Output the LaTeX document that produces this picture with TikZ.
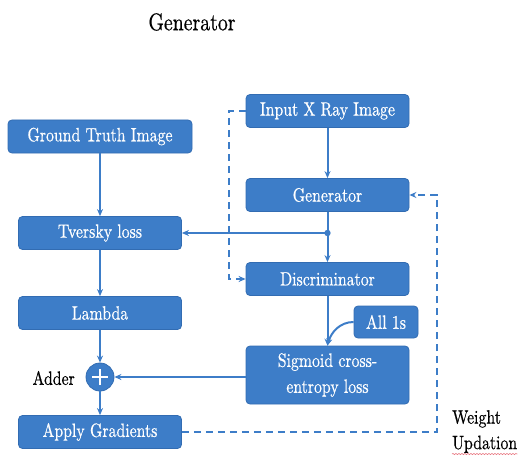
\documentclass[tikz,border=0pt]{standalone}
\usepackage{graphicx}
\usepackage{fontspec}
\setmainfont{lmroman10-regular.otf}[FakeBold=0.6]
\usetikzlibrary{arrows.meta,decorations.pathmorphing}
\definecolor{boxblue}{RGB}{61,125,200}
\definecolor{boxedge}{RGB}{50,108,178}
\definecolor{spellred}{RGB}{232,120,130}
% slightly tall lettering
\newcommand{\vst}[1]{\scalebox{1}[1.22]{#1}}
\begin{document}
\begin{tikzpicture}[x=1pt,y=1pt,
  lbl/.style={font=\fontsize{15.8}{20}\selectfont},
  blk/.style={draw=boxedge, line width=0.8pt, fill=boxblue, rounded corners=4pt,
    text=white, lbl, inner sep=0pt, minimum height=33pt, minimum width=163pt},
  flow/.style={draw=boxblue, line width=2pt, -{Stealth[length=7pt,width=6pt]}},
  loopline/.style={flow, dash pattern=on 7pt off 5pt}]
\useasboundingbox (0,0) rectangle (519,456);

% title
\node[font=\fontsize{19.8}{24}\selectfont] (title) at (192,434) {\vst{Generator}};

% left column
\node[blk, minimum width=184pt] (gt) at (100,319.5) {\vst{Ground Truth Image}};
\node[blk] (tv) at (100,223) {\vst{Tversky loss}};
\node[blk] (lam) at (100,143) {\vst{Lambda}};
\node[circle, fill=boxblue, draw=boxedge, line width=0.8pt, minimum size=28pt, inner sep=0pt] (add) at (100,79) {};
\draw[white, line width=1.2pt] ([xshift=-8pt]add.center) -- ([xshift=8pt]add.center)
  ([yshift=-8pt]add.center) -- ([yshift=8pt]add.center);
\node[blk] (ag) at (100,24) {\vst{Apply Gradients}};
\node[lbl, anchor=east, inner sep=0pt] (addlbl) at (75,78) {\vst{Adder}};

% right column
\node[blk] (xr) at (327.5,345) {\vst{Input X Ray Image}};
\node[blk] (gen) at (327.5,261) {\vst{Generator}};
\coordinate (jn) at (327.5,223);
\node[blk] (dis) at (327.5,177) {\vst{Discriminator}};
\node[blk, minimum width=64pt, minimum height=32pt] (ones) at (386,134) {\vst{All 1s}};
\node[blk, minimum height=58pt, align=center, font=\fontsize{15.8}{26}\selectfont] (sig) at (327.5,81) {\vst{Sigmoid cross-}\\\vst{entropy loss}};

% weight update label
\node[lbl, anchor=north west, align=left, inner sep=0pt, font=\fontsize{15.8}{25.5}\selectfont] (wu) at (452,46) {\vst{Weight}\\\vst{Updation}};
\draw[spellred, line width=0.6pt, decorate, decoration={snake, amplitude=0.6pt, segment length=3pt}]
  ([yshift=-1pt]wu.south west) -- ([yshift=-1pt]wu.south east);

% solid flow
\draw[flow] (gt) -- (tv);
\draw[flow] (tv) -- (lam);
\draw[flow] (lam) -- (add);
\draw[flow] (add) -- (ag);
\draw[flow] (xr) -- (gen);
\draw[flow] (gen) -- (dis);
\draw[flow] (jn) -- (tv.east);
\fill[boxblue] (jn) circle (3.2pt);
\draw[flow] (dis) -- (sig);
\draw[flow] (ones.west) to[out=180, in=75] (sig.north);
\draw[flow] (add -| sig.west) -- (add.east);

% dashed feedback loops
\coordinate (ll) at (229,345);
\draw[loopline] (xr.west) -- (ll) |- (dis.west);
\coordinate (rl) at (437,261);
\draw[loopline] (ag.east) -| (rl) -- (gen.east);
\end{tikzpicture}
\end{document}
